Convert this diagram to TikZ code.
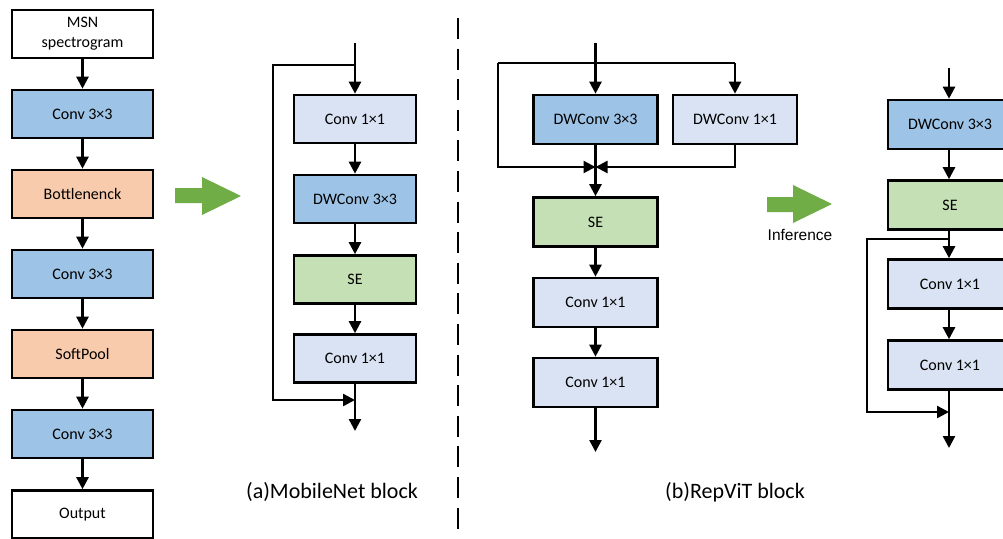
\documentclass[tikz,border=0pt]{standalone}
\usepackage{fontspec}
\setmainfont{Carlito}
\newfontfamily\arialfont{Liberation Sans}
\usetikzlibrary{arrows.meta}
\definecolor{cblue}{HTML}{9DC3E6}
\definecolor{corange}{HTML}{F8CBAD}
\definecolor{cgreen}{HTML}{C5E0B4}
\definecolor{clav}{HTML}{DAE3F3}
\definecolor{carrow}{HTML}{70AD47}
\begin{document}
\begin{tikzpicture}[x=1pt,y=-1pt,
  box/.style={draw=black, line width=2.6pt, inner sep=0pt, align=center,
    font=\fontsize{16}{20}\selectfont},
  lw/.style={minimum width=141pt, minimum height=48pt},
  mw/.style={minimum width=122pt, minimum height=48pt},
  rw/.style={minimum width=124pt, minimum height=49pt},
  conn/.style={line width=2.4pt},
  flow/.style={line width=2.4pt, -{Triangle[length=12pt,width=12pt]}},
  bigarrow/.style={fill=carrow},
  caption/.style={font=\fontsize{22}{24}\selectfont}]
\useasboundingbox (0,0) rectangle (1003,538);
\clip (0,0) rectangle (1003,538);
\fill[white] (0,0) rectangle (1003,538);

% ---------- left column ----------
\node[box,lw,fill=white]   (msn) at (82.5,34)    {MSN\\spectrogram};
\node[box,lw,fill=cblue]   (c1)  at (82.5,114)   {Conv 3×3};
\node[box,lw,fill=corange] (bn)  at (82.5,194)   {Bottlenenck};
\node[box,lw,fill=cblue]   (c2)  at (82.5,274)   {Conv 3×3};
\node[box,lw,fill=corange] (sp)  at (82.5,354)   {SoftPool};
\node[box,lw,fill=cblue]   (c3)  at (82.5,434)   {Conv 3×3};
\node[box,lw,fill=white]   (out) at (82.5,514.5) {Output};
\draw[flow] (msn) -- (c1);
\draw[flow] (c1) -- (bn);
\draw[flow] (bn) -- (c2);
\draw[flow] (c2) -- (sp);
\draw[flow] (sp) -- (c3);
\draw[flow] (c3) -- (out);

% green arrow 1
\fill[bigarrow] (175,188) -- (202,188) -- (202,177) -- (241,196) -- (202,215) -- (202,203) -- (175,203) -- cycle;

% ---------- (a) MobileNet block ----------
\coordinate (ma) at (355,43);
\coordinate (mb) at (355,65);
\coordinate (ml1) at (273,65);
\coordinate (ml2) at (273,400);
\coordinate (mc) at (355,400);
\coordinate (md) at (355,431);
\node[box,mw,fill=clav]   (m1) at (355,119)   {Conv 1×1};
\node[box,mw,fill=cblue]  (m2) at (355,199)   {DWConv 3×3};
\node[box,mw,fill=cgreen] (m3) at (355,279.5) {SE};
\node[box,mw,fill=clav]   (m4) at (355,358.5) {Conv 1×1};
\draw[flow] (ma) -- (m1);
\draw[flow] (m1) -- (m2);
\draw[flow] (m2) -- (m3);
\draw[flow] (m3) -- (m4);
\draw[flow] (m4) -- (md);
\draw[flow] (mb) -- (ml1) -- (ml2) -- (mc);

% dashed separator
\coordinate (sepA) at (458,18);
\coordinate (sepB) at (458,538);
\draw[line width=2.6pt, dash pattern=on 21pt off 9.6pt] (sepA) -- (sepB);

% ---------- (b) RepViT block ----------
\coordinate (ra) at (595.5,43);
\coordinate (rL0) at (498,63);
\coordinate (rR0) at (735,63);
\coordinate (rL1) at (498,167);
\coordinate (rm) at (595.5,167);
\coordinate (re) at (595.5,452);
\node[box,rw,fill=cblue]  (r1) at (595.5,119.5) {DWConv 3×3};
\node[box,rw,fill=clav]   (r2) at (735,119.5)   {DWConv 1×1};
\node[box,rw,fill=cgreen] (r3) at (595.5,222)   {SE};
\node[box,rw,fill=clav]   (r4) at (595.5,302.5) {Conv 1×1};
\node[box,rw,fill=clav]   (r5) at (595.5,382.5) {Conv 1×1};
\draw[conn] (rL0) -- (rR0);
\draw[flow] (ra) -- (r1);
\draw[flow] (rR0) -- (r2);
\draw[conn] (r1) -- (rm);
\draw[flow] (rL0) -- (rL1) -- (rm);
\draw[flow] (r2.south) |- (rm);
\draw[flow] (rm) -- (r3);
\draw[flow] (r3) -- (r4);
\draw[flow] (r4) -- (r5);
\draw[flow] (r5) -- (re);

% green arrow 2 + label
\fill[bigarrow] (767,197) -- (793,197) -- (793,185) -- (832,204) -- (793,223) -- (793,212) -- (767,212) -- cycle;
\node[font=\arialfont\fontsize{15.5}{17}\selectfont, inner sep=0pt] (inf) at (800,235) {Inference};

% ---------- inference block ----------
\coordinate (ia) at (949,68);
\coordinate (ib) at (949,239);
\coordinate (il1) at (867,239);
\coordinate (il2) at (867,412);
\coordinate (ic) at (949,412);
\coordinate (id) at (949,448);
\node[box,rw,fill=cblue]  (i1) at (950,124.5) {DWConv 3×3};
\node[box,rw,fill=cgreen] (i2) at (950,205)   {SE};
\node[box,rw,fill=clav]   (i3) at (950,284)   {Conv 1×1};
\node[box,rw,fill=clav]   (i4) at (950,365)   {Conv 1×1};
\draw[flow] (ia) -- (ia |- i1.north);
\draw[flow] (i1.south -| ia) -- (i2.north -| ia);
\draw[flow] (i2.south -| ia) -- (i3.north -| ia);
\draw[flow] (i3.south -| ia) -- (i4.north -| ia);
\draw[flow] (i4.south -| ia) -- (id);
\draw[flow] (ib) -- (il1) -- (il2) -- (ic);

% captions
\node[caption] (capa) at (332,492) {(a)MobileNet block};
\node[caption] (capb) at (735,492) {(b)RepViT block};
\end{tikzpicture}
\end{document}
